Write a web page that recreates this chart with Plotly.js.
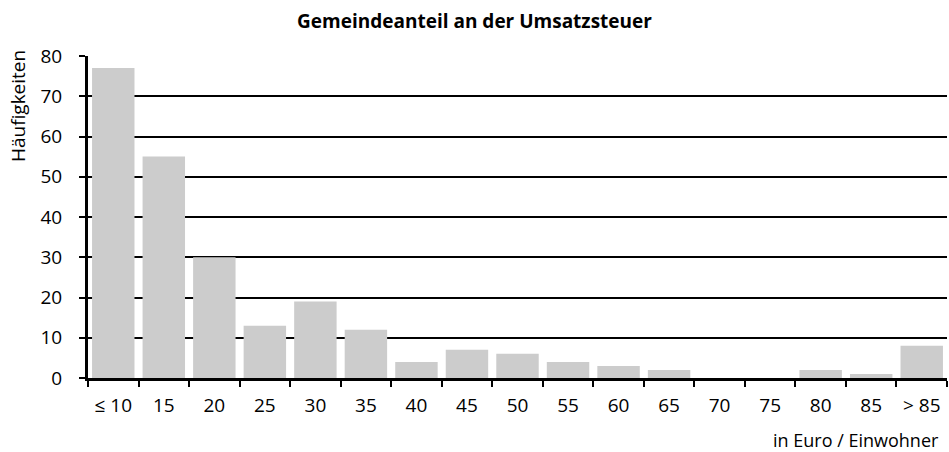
<!DOCTYPE html>
<html>
<head>
<meta charset="utf-8">
<script src="https://cdn.plot.ly/plotly-3.0.1.min.js"></script>
<style>html,body{margin:0;padding:0;background:#fff;}#chart{width:949px;height:452px;}</style>
</head>
<body>
<div id="chart"></div>
<script>
const categories = ["≤ 10","15","20","25","30","35","40","45","50","55","60","65","70","75","80","85","> 85"];
const counts = [77,55,30,13,19,12,4,7,6,4,3,2,0,0,2,1,8];
const yTicks = [0,10,20,30,40,50,60,70,80];

const font = "Open Sans, Liberation Sans, sans-serif";

Plotly.newPlot("chart", [{
  type: "bar",
  x: categories,
  y: counts,
  marker: {color: "#cccccc", line: {width: 0}},
  hoverinfo: "x+y"
}], {
  width: 949, height: 452,
  margin: {l: 88, r: 2, t: 56, b: 74},
  paper_bgcolor: "#fff", plot_bgcolor: "#fff",
  bargap: 0.16,
  showlegend: false,
  title: {text: "<b>Gemeindeanteil an der Umsatzsteuer</b>", font: {family: font, size: 19, color: "#000"}, x: 0.5, xanchor: "center", y: 1 - 21/452, yanchor: "middle"},
  xaxis: {
    type: "category",
    showline: true, linecolor: "#000", linewidth: 3,
    ticks: "outside", tickson: "boundaries", ticklen: 6, tickwidth: 2, tickcolor: "#000",
    ticklabelstandoff: 8,
    showgrid: false, zeroline: false,
    tickfont: {family: font, size: 19, color: "#000"},
    fixedrange: true
  },
  yaxis: {
    range: [0, 80],
    tickvals: yTicks,
    showline: true, linecolor: "#000", linewidth: 3,
    ticks: "outside", ticklen: 6, tickwidth: 2, tickcolor: "#000",
    ticklabelstandoff: 13,
    showgrid: true, gridcolor: "#000", gridwidth: 2,
    zeroline: false,
    tickfont: {family: font, size: 19, color: "#000"},
    fixedrange: true
  },
  annotations: [{
    text: "in Euro / Einwohner", xref: "paper", yref: "paper",
    x: (941-88)/860, y: -62/322, xanchor: "right", yanchor: "middle", showarrow: false,
    borderpad: 0,
    font: {family: font, size: 18, color: "#000"}
  }, {
    text: "Häufigkeiten", xref: "paper", yref: "paper", textangle: -90,
    x: -70/860, y: (378-106)/322, xanchor: "center", yanchor: "middle", showarrow: false,
    font: {family: font, size: 19, color: "#000"}
  }]
}, {displayModeBar: false});
</script>
</body>
</html>
